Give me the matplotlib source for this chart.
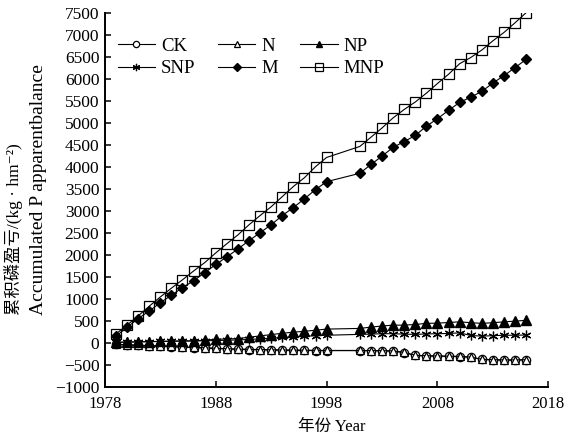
import matplotlib
matplotlib.use('Agg')
import matplotlib.pyplot as plt

plt.rcParams['font.family'] = ['Liberation Serif', 'Noto Sans CJK SC', 'DejaVu Serif']

# years sampled (no data for 1999, 2000)
years = list(range(1979, 1999)) + list(range(2001, 2017))

ck = [-30, -40, -50, -60, -70, -80, -90, -100, -110, -120,
      -130, -140, -145, -150, -155, -160, -163, -165, -168, -170,
      -170, -172, -175, -180, -215, -280, -290, -295, -300, -305,
      -320, -370, -380, -385, -385, -380]
n = [-25, -35, -45, -55, -65, -75, -85, -95, -105, -115,
     -125, -135, -140, -145, -150, -155, -158, -160, -163, -165,
     -165, -168, -170, -175, -210, -275, -285, -290, -295, -300,
     -315, -365, -375, -380, -380, -375]
np_ = [20, 25, 30, 35, 40, 45, 50, 55, 65, 90,
       95, 105, 135, 165, 195, 225, 250, 270, 295, 320,
       335, 365, 390, 410, 410, 425, 450, 455, 470, 485,
       465, 450, 465, 485, 500, 520]
snp = [20, 25, 30, 35, 40, 45, 48, 50, 55, 60,
       65, 75, 85, 100, 115, 130, 145, 155, 170, 180,
       200, 205, 215, 215, 205, 200, 210, 215, 220, 235,
       175, 160, 170, 180, 180, 185]
m = [160, 360, 560, 730, 920, 1090, 1260, 1420, 1600, 1790,
     1960, 2140, 2330, 2510, 2690, 2900, 3080, 3280, 3490, 3670,
     3860, 4060, 4250, 4450, 4580, 4720, 4930, 5100, 5290, 5470,
     5590, 5720, 5910, 6080, 6260, 6450]
mnp = [210, 410, 620, 840, 1050, 1250, 1440, 1640, 1830, 2050,
       2260, 2460, 2690, 2900, 3100, 3330, 3560, 3760, 4010, 4220,
       4470, 4680, 4890, 5120, 5310, 5480, 5680, 5900, 6110, 6350,
       6490, 6660, 6870, 7060, 7280, 7510]

fig = plt.figure(figsize=(5.67, 4.37), dpi=100)
ax = fig.add_axes([0.185, 0.114, 0.782, 0.856])

lw = 0.8
h_ck, = ax.plot(years, ck, color='black', lw=lw, marker='o', ms=6,
                mfc='white', mec='black', mew=0.9, label='CK')
h_n, = ax.plot(years, n, color='black', lw=lw, marker='^', ms=5.5,
               mfc='white', mec='black', mew=0.9, label='N')
h_np, = ax.plot(years, np_, color='black', lw=lw, marker='^', ms=6.5,
                mfc='black', mec='black', label='NP')
h_snp, = ax.plot(years, snp, color='black', lw=lw, marker=(6, 2, 0), ms=7,
                 mec='black', mew=0.9, label='SNP')
h_m, = ax.plot(years, m, color='black', lw=lw, marker='D', ms=5.5,
               mfc='black', mec='black', label='M')
h_mnp, = ax.plot(years, mnp, color='black', lw=lw, marker='s', ms=7.5,
                 mfc='none', mec='black', mew=0.9, label='MNP')

ax.set_xlim(1978, 2018)
ax.set_ylim(-1000, 7500)
ax.set_xticks(range(1978, 2019, 10))
ax.set_yticks(range(-1000, 7501, 500))
ax.spines['top'].set_visible(False)
ax.spines['right'].set_visible(False)
for s in ['left', 'bottom']:
    ax.spines[s].set_linewidth(1.4)
ax.tick_params(direction='in', length=4, width=1.1, labelsize=12.5)
ax.tick_params(axis='x', pad=6, labelsize=12)
ax.tick_params(axis='y', pad=4)

leg = ax.legend([h_ck, h_snp, h_n, h_m, h_np, h_mnp],
                ['CK', 'SNP', 'N', 'M', 'NP', 'MNP'],
                ncol=3, loc='upper left', bbox_to_anchor=(0.012, 0.955),
                frameon=False, fontsize=13.5, handlelength=2.0,
                columnspacing=1.2, handletextpad=0.3, labelspacing=0.3,
                markerscale=0.75, borderaxespad=0)

fig.text(0.023, 0.279, '累积磷盈亏/(kg · hm⁻²)', rotation=90,
         ha='center', va='bottom', fontsize=12.5)
fig.text(0.068, 0.279, 'Accumulated P apparentbalance', rotation=90,
         ha='center', va='bottom', fontsize=14)
fig.text(0.585, 0.023, '年份 Year', ha='center', va='center', fontsize=12)

fig.savefig('out.png', dpi=100)
